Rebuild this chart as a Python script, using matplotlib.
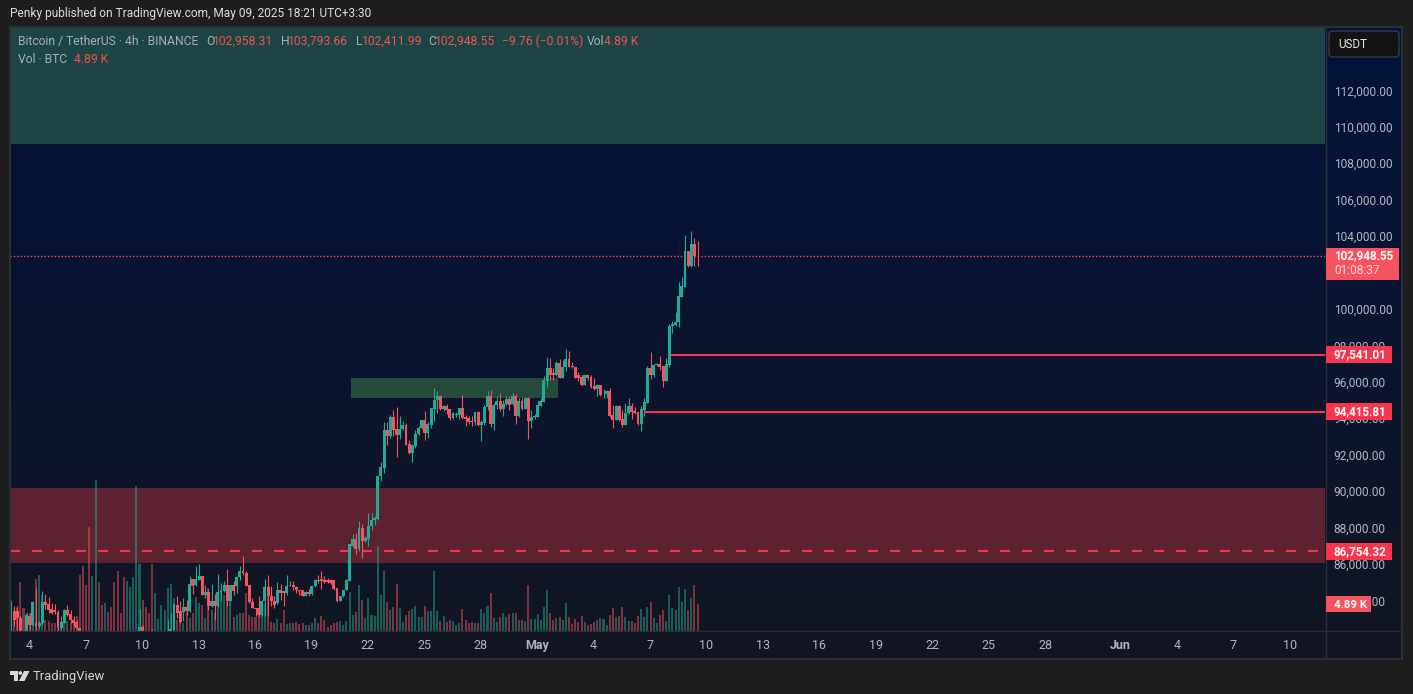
import numpy as np
import matplotlib
matplotlib.use('Agg')
import matplotlib.pyplot as plt
from matplotlib.colors import LinearSegmentedColormap
from matplotlib.patches import Rectangle, FancyBboxPatch, Circle, Polygon
from matplotlib.transforms import blended_transform_factory, ScaledTranslation

plt.rcParams['font.family'] = ['Roboto', 'DejaVu Sans']

# 4h BTCUSDT candles, oldest first
opens = [82390,83490,83450,83090,82390,82080,83210,82680,82810,82630,
         82810,83960,83870,83580,83510,83430,82540,82810,83540,83300,
         82990,82850,82540,82390,81800,81000,79600,80200,81300,80500,
         79800,80100,79500,78900,78300,77900,77300,76800,77500,78600,
         79400,82000,82610,82300,81900,82450,81500,81900,81700,81800,
         81900,82390,82450,83820,83450,83410,83690,83450,85230,84880,
         85190,85410,84370,84530,83730,84000,83730,84530,84570,84920,
         84040,84920,84820,85320,85680,85560,84920,83950,83630,83630,
         83270,84040,84810,84310,84000,83910,84640,84550,84460,84860,
         84920,84790,84600,84600,84310,84510,84420,84820,85190,85230,
         85150,85150,85150,85150,84730,84040,84280,84640,85120,87060,
         87430,86880,88030,87320,87430,88140,88470,88520,90880,91320,
         93410,93080,94120,93460,93130,93460,93680,92640,92150,92530,
         93190,93520,93960,93240,93680,94560,95060,95280,94560,94730,
         94560,94070,94230,94230,94620,94100,94070,93900,93850,94400,
         93680,93790,94670,95280,93740,94780,95000,94560,94840,95110,
         94840,95280,94180,95000,94560,95170,93900,94120,94120,94730,
         94950,96100,96810,96520,96430,97090,96260,96870,97310,96920,
         96870,96430,96320,95880,96430,96320,95830,95660,95880,95420,
         95390,95550,94230,93960,94730,94010,93680,94340,94730,94450,
         94400,93740,94510,94890,96810,96430,96980,97030,96920,96100,
         96980,99120,99160,99360,100700,101280,103240,102440,103630,102958.31]
closes = [83490,82990,83090,82390,82080,83270,82720,83960,82630,82810,
          83960,83820,83540,83380,83400,82570,82850,83540,83270,82990,
          82810,82540,82390,81800,81000,79600,80200,81300,80500,79800,
          80100,79500,78900,78300,77900,77300,76800,77500,78600,79400,
          82000,82610,82300,81900,81500,82260,81900,82000,82100,82200,
          82300,82500,83820,83360,82870,83690,83450,84970,84860,85250,
          85410,84370,84530,83730,84000,83730,84530,84570,84920,84040,
          84920,84550,85340,85680,85560,84860,83950,83630,83580,83270,
          84040,84810,84280,84000,83820,84640,84460,84460,84860,84920,
          84770,84600,84550,84310,84510,84400,84860,85190,85100,85100,
          85060,85040,85000,84680,84040,84280,84640,85190,87150,87430,
          86880,88030,87320,87460,88140,88470,88580,90880,91380,93410,
          93080,94120,93410,93130,93460,93680,92590,92150,92590,93190,
          93520,93960,93240,93740,94620,95060,95280,94560,94730,94510,
          94070,94340,94290,94620,94070,94010,93850,93850,94400,93680,
          93850,94670,95280,93740,94780,95000,94560,94840,95090,94780,
          95280,94180,95000,94560,95170,93900,94120,94180,94780,95000,
          96150,96810,96430,96430,97090,96260,96870,97310,96870,96870,
          96260,96260,95880,96430,96260,95770,95660,95880,95330,95440,
          95550,94180,93960,94730,93960,93680,94340,94730,94400,94340,
          93740,94560,94950,96810,96430,96980,97030,96870,96100,97030,
          99120,99230,99360,100770,101320,103240,102440,103630,102950,102948.55]
highs = [84000,83760,83760,83180,82450,83360,83360,84000,84730,82900,
         84550,84420,84240,83910,83870,83510,83180,83580,83820,83540,
         83210,82990,82540,82390,81900,81100,80400,81600,81500,80700,
         80400,80300,79700,79100,78500,78100,77500,77800,78900,79700,
         82200,83580,82700,82310,82000,82490,82100,82200,82200,82300,
         82990,83360,83910,84280,84000,84180,84050,85410,85230,85920,
         86070,85410,84920,84680,84970,84420,85520,85000,85100,85800,
         84920,85100,85410,85920,86510,85650,84920,84180,83630,84280,
         84060,85230,85450,84820,84280,85040,84970,84550,85460,85130,
         85100,84820,84600,84600,84550,84700,84900,85230,85460,85680,
         85410,85280,85240,85150,84730,84280,84640,85230,87150,87700,
         87750,88400,88250,87610,88850,88830,88690,90880,91650,93850,
         93850,94230,94510,94670,94180,93900,93790,92860,92590,93410,
         93630,93960,94450,93850,94620,95720,95550,95330,94780,94840,
         94560,94400,94400,94620,95330,94230,94180,94180,94400,94470,
         93960,94780,95550,95610,94890,95280,95440,95060,95280,95280,
         95440,95390,95170,95170,95220,95200,94510,94290,95000,95170,
         96370,97420,97360,96810,97200,97310,97250,97860,97750,97140,
         96870,96590,96430,96480,96430,96430,96260,95930,95880,95660,
         95610,95720,94780,94780,94780,94510,94890,95170,94890,94670,
         94400,94730,95170,96920,97690,97030,97090,97470,96920,97360,
         99230,99400,99870,101540,101830,104120,103240,104340,103940,103793.66]
lows = [82450,82630,82450,82390,81900,82080,82450,82630,82390,82540,
        82720,83580,83360,83300,83300,82390,82450,82810,83210,82810,
        82630,82480,82350,81500,80700,79300,79300,79900,80200,79500,
        79600,79200,78600,78000,77600,77000,76500,76500,77200,78300,
        79100,81900,82200,81700,81300,82100,81300,81700,81500,81600,
        81700,82390,82390,83090,82810,82900,83270,83410,84420,84860,
        85190,84370,84180,83540,83690,82990,83690,84000,84530,83760,
        84000,84370,84460,85150,85460,84860,83910,83630,83180,83140,
        83180,83210,83270,83730,83630,83870,84090,83730,84370,84820,
        84640,84460,84370,84310,84280,84280,84370,84790,85000,84700,
        85000,85000,84970,84600,83950,84000,84240,84600,85120,87000,
        86600,86780,86380,87280,87040,87920,88190,88470,90610,91050,
        92590,92990,93080,91930,92910,93410,92590,92090,91650,92420,
        93130,93460,92860,92970,93520,93900,94340,94510,94450,94290,
        93960,94010,94140,94010,94010,93630,93740,93630,93680,93630,
        92800,93680,94510,93570,93410,94560,94450,94180,94780,94510,
        94780,93740,94120,94510,94560,92910,93520,94010,94120,94730,
        94950,95770,96150,96150,96370,96260,96260,96650,96870,96810,
        96260,96100,95830,95880,96150,95720,95610,95280,95280,95170,
        95170,94120,93520,93960,93900,93570,93680,94290,94010,94290,
        93680,93350,94180,94890,96210,96320,96920,96700,95770,96100,
        96890,98760,99120,99090,100700,101280,102360,102380,102440,102411.99]
# traded volume per candle, thousands of BTC
volumes = [5.6,3.5,4.1,8.9,4.1,3.2,3.2,5.3,9.5,10.1,
           6.5,2.0,1.8,1.4,1.5,3.5,1.4,2.0,1.8,1.6,
           2.0,2.7,10.1,11.8,8.3,18.9,10.0,27.4,8.9,4.7,
           5.0,3.5,4.4,8.9,10.8,3.2,9.8,9.1,8.0,9.8,
           26.3,12.1,5.6,4.4,3.2,12.1,6.9,2.2,4.7,3.8,
           7.8,8.5,5.9,2.0,2.9,1.4,3.5,2.3,3.2,6.2,
           5.0,4.7,2.3,7.7,3.8,3.2,6.2,7.4,6.5,5.3,
           6.5,2.6,2.9,3.3,3.2,6.8,2.9,2.6,2.6,2.9,
           4.4,4.7,7.7,1.7,1.5,2.2,1.4,3.8,1.3,1.4,
           1.5,1.7,1.3,1.4,1.0,1.1,1.4,2.3,1.5,2.7,
           2.0,0.8,1.1,1.4,1.7,1.8,1.0,1.8,7.0,2.9,
           3.5,8.3,5.6,2.3,6.0,2.9,2.7,15.3,6.5,10.9,
           5.3,3.8,4.4,8.5,4.2,1.6,2.9,3.7,4.0,4.5,
           2.6,2.6,4.6,3.7,3.7,10.9,3.7,1.8,2.8,1.7,
           2.0,1.8,1.1,1.4,4.0,2.0,1.4,1.6,1.5,1.4,
           4.0,3.3,4.5,6.9,2.4,1.7,2.5,3.3,2.6,3.1,
           3.2,3.3,2.0,2.0,1.8,8.3,2.2,2.2,3.1,2.0,
           4.3,7.4,3.3,2.0,2.4,2.5,2.0,5.1,2.5,1.3,
           2.2,1.6,2.7,1.6,1.1,1.3,1.6,2.0,2.4,2.2,
           1.1,2.9,4.2,2.5,2.7,4.3,2.5,1.8,1.8,1.4,
           2.7,4.0,2.5,4.3,5.3,2.4,1.4,2.9,3.8,1.8,
           6.5,4.2,3.8,8.0,5.3,7.6,3.8,6.0,8.3,4.89]

# days since Apr 4 and their labels
tick_days = [0,3,6,9,12,15,18,21,24,27,30,33,36,39,42,45,48,51,54,58,61,64,67]
tick_labels = ['4','7','10','13','16','19','22','25','28','May','4','7','10','13',
               '16','19','22','25','28','Jun','4','7','10']
price_ticks = list(range(84000, 114000, 2000))

zone_green = (109110, 116000)
zone_red = (86110, 90230)
box_price = (95180, 96270)
box_bars = (108.5, 174.5)
resistance = 97541.01
resistance_bar = 210.5
support = 94415.81
support_bar = 202
dashed_level = 86754.32
last_price = 102948.55

UP = '#22ab94'
DOWN = '#f7525f'
LINE_RED = '#f7354c'
GRID = '#2a2e39'
TEXT = '#b2b5be'
W, H = 1413, 694


def pane_axes(left, top, right, bottom, **kw):
    return fig.add_axes([left / W, 1 - bottom / H, (right - left) / W, (bottom - top) / H], **kw)


def bar_days(i):
    return (np.asarray(i) - 5.85) / 6


fig = plt.figure(figsize=(W / 100, H / 100), dpi=100, facecolor='#1e1e1e')

# background gradient under the whole pane
bg = pane_axes(10, 27, 1402, 658, zorder=0)
cmap = LinearSegmentedColormap.from_list('pane', ['#02123b', '#131722'])
bg.imshow(np.linspace(0, 1, 256).reshape(-1, 1), aspect='auto', cmap=cmap)
bg.axis('off')

# volume panel shares the pane, and holds the zones so bars sit on top of them
ax_vol = pane_axes(10, 27, 1325, 631, zorder=1)
ax_vol.patch.set_alpha(0)
ax_vol.axis('off')

ax = pane_axes(10, 27, 1325, 631, zorder=2)
ax.patch.set_alpha(0)
ax.set_xlim(-1.026, 68.88)
ax.set_ylim(82375, 115536)
ax_vol.set_xlim(ax.get_xlim())
ax_vol.set_ylim(0, 109.3)

# supply and demand zones
day_l, day_r = ax.get_xlim()
ax_vol.add_patch(Rectangle((day_l, zone_green[0]), day_r - day_l, zone_green[1] - zone_green[0],
                           color='#1d4545', lw=0, transform=ax.transData, zorder=1))
ax_vol.add_patch(Rectangle((day_l, zone_red[0]), day_r - day_l, zone_red[1] - zone_red[0],
                           color='#5c2230', lw=0, transform=ax.transData, zorder=1))
bx0, bx1 = bar_days(box_bars[0]), bar_days(box_bars[1])
ax_vol.add_patch(Rectangle((bx0, box_price[0]), bx1 - bx0, box_price[1] - box_price[0],
                           color='#25493a', lw=0, transform=ax.transData, zorder=1))

x = bar_days(np.arange(len(closes)))
o = np.array(opens)
c = np.array(closes)
hi = np.array(highs)
lo = np.array(lows)
colors = np.where(c >= o, UP, DOWN)

ax_vol.bar(x, volumes, width=0.65 / 6, color=colors, alpha=0.48, lw=0, zorder=2)

# candles
ax.vlines(x, lo, hi, colors=colors, lw=0.8, zorder=3)
ax.bar(x, np.maximum(np.abs(c - o), 40), bottom=np.minimum(o, c), width=0.93 / 6, color=colors, lw=0, zorder=4)

# horizontal levels
ax.hlines(resistance, bar_days(resistance_bar), day_r, color=LINE_RED, lw=1.5, zorder=5)
ax.hlines(support, bar_days(support_bar), day_r, color=LINE_RED, lw=1.5, zorder=5)
ax.axhline(dashed_level, color=LINE_RED, lw=1.5, dashes=(4.8, 5.76), zorder=2)
ax.axhline(last_price, color='#f4505a', lw=1, dashes=(1, 1.45), zorder=2)

# axes
ax.set_xticks(tick_days)
ax.set_xticklabels(tick_labels, fontsize=9, color=TEXT)
for lab, name in zip(ax.get_xticklabels(), tick_labels):
    if name in ('May', 'Jun'):
        lab.set_fontweight('bold')
ax.yaxis.tick_right()
ax.set_yticks(price_ticks)
ax.set_yticklabels([f'{v:,.2f}' for v in price_ticks], fontsize=8.6, color=TEXT)
ax.tick_params(axis='both', length=0)
ax.tick_params(axis='x', pad=6)
ax.tick_params(axis='y', pad=6.2)
# nudge the scale labels up a pixel
nudge = ScaledTranslation(0, 1 / 100, fig.dpi_scale_trans)
for lab in ax.get_yticklabels():
    lab.set_transform(lab.get_transform() + nudge)
for s in ax.spines.values():
    s.set_visible(False)

# page furniture in pixel coordinates
top = fig.add_axes([0, 0, 1, 1], zorder=5)
top.set_xlim(0, W)
top.set_ylim(H, 0)
top.patch.set_alpha(0)
top.axis('off')

top.add_patch(Rectangle((9.5, 26.5), 1392.5, 632, fc='none', ec=GRID, lw=1.5))
top.plot([1325.5, 1325.5], [27, 658], color=GRID, lw=1)
top.plot([10, 1402], [631, 631], color=GRID, lw=1)

top.text(10, 13.5, 'Penky published on TradingView.com, May 09, 2025 18:21 UTC+3:30',
         color='#dcdcdc', fontsize=8.6, va='center')
LEGEND = '#a6b0b4'
VAL = '#f05350'
top.text(18, 41, 'Bitcoin / TetherUS · 4h · BINANCE', color=LEGEND, fontsize=8.7, va='center')
for xp, s, col in [(206, 'O', LEGEND), (213, '102,958.31', VAL), (281, 'H', LEGEND), (288, '103,793.66', VAL),
                   (356, 'L', LEGEND), (362, '102,411.99', VAL), (428, 'C', LEGEND), (435, '102,948.55', VAL),
                   (502, '−9.76 (−0.01%)', VAL), (587, 'Vol', LEGEND), (604, '4.89 K', VAL)]:
    top.text(xp, 41, s, color=col, fontsize=8.7, va='center')
top.text(18, 59, 'Vol · BTC', color=LEGEND, fontsize=8.7, va='center')
top.text(74, 59, '4.89 K', color=VAL, fontsize=8.7, va='center')

# unit button
top.add_patch(FancyBboxPatch((1331, 33), 66, 22, boxstyle='round,pad=2,rounding_size=4',
                             fc='#131313', ec='#363a45', lw=1))
top.text(1338, 44.5, 'USDT', color='#e6e6e6', fontsize=8.4, va='center')

# price tags sit on the scale: x in pixels, y on the price axis
tag_tf = blended_transform_factory(top.transData, ax.transData)
PX = (ax.get_ylim()[1] - ax.get_ylim()[0]) / 604


def price_tag(price, label):
    top.add_patch(Rectangle((1326, price - 8.5 * PX), 66, 17 * PX, fc=LINE_RED, lw=0, transform=tag_tf, zorder=3))
    top.text(1334, price, label, color='white', fontsize=8.4, fontweight='bold', va='center',
             transform=tag_tf, zorder=4)


price_tag(resistance, f'{resistance:,.2f}')
price_tag(support, f'{support:,.2f}')
price_tag(dashed_level, f'{dashed_level:,.2f}')

top.add_patch(Rectangle((1326, 248), 73, 32, fc=DOWN, lw=0, zorder=3))
top.text(1334, 256, f'{last_price:,.2f}', color='white', fontsize=8.4, fontweight='bold', va='center', zorder=4)
top.text(1334, 270, '01:08:37', color='#ffdcdc', fontsize=8.6, va='center', zorder=4)

top.add_patch(Rectangle((1326, 596), 45, 16, fc=DOWN, lw=0, zorder=3))
top.text(1334, 604.5, f'{volumes[-1]:.2f} K', color='white', fontsize=8.2, fontweight='bold', va='center', zorder=4)

# logo and wordmark
LOGO = '#d9d9d9'
top.add_patch(Polygon([(10, 671), (17.5, 671), (17.5, 681), (13.5, 681), (13.5, 675), (10, 675)], fc=LOGO, lw=0))
top.add_patch(Circle((20.3, 673), 1.9, fc=LOGO, lw=0))
top.add_patch(Polygon([(24, 671), (29.5, 671), (24.5, 681), (19, 681)], fc=LOGO, lw=0))
top.text(33, 676.5, 'TradingView', color='#d1d4dc', fontsize=9.4, va='center')

fig.savefig('out.png', dpi=100, facecolor=fig.get_facecolor())
